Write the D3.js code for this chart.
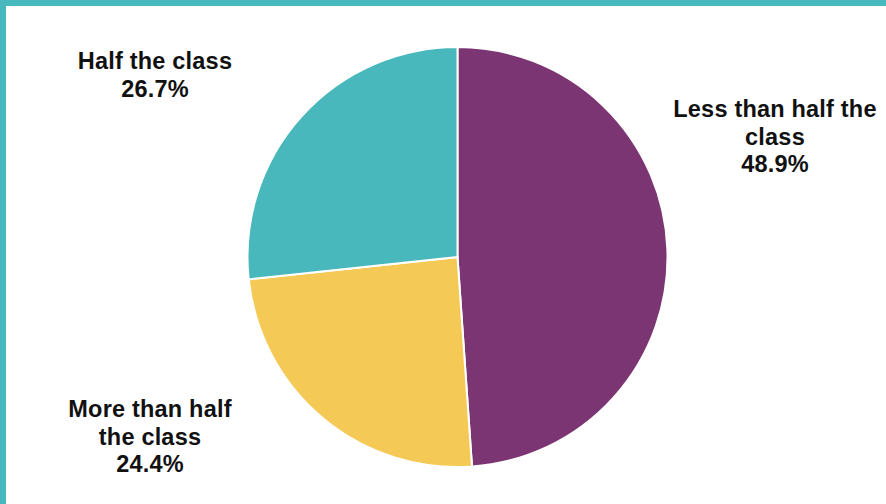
<!DOCTYPE html>
<html lang="en">
<head>
  <meta charset="UTF-8">
  <title>Share of the class</title>
  <script src="https://d3js.org/d3.v7.min.js"></script>
  <style>
    body, html {
      margin: 0;
      padding: 0;
      overflow: hidden;
      background: #fff;
    }
    svg {
      display: block;
    }
    .label {
      font-family: "Liberation Sans", Arial, sans-serif;
      font-weight: bold;
      font-size: 23.5px;
      letter-spacing: 0.2px;
      fill: #111;
    }
  </style>
</head>
<body>
  <svg width="886" height="504"></svg>
  <script>
    // Slices in drawing order, clockwise from 12 o'clock
    const categories = ['Less than half the class', 'More than half the class', 'Half the class'];
    const shares = [48.9, 24.4, 26.7];
    const colors = ['#7b3572', '#f5c956', '#48b8bc'];
    // Label lines for each slice, as wrapped in the picture
    const labelLines = [
      ['Less than half the', 'class', '48.9%'],
      ['More than half', 'the class', '24.4%'],
      ['Half the class', '26.7%']
    ];
    const labelAnchors = [[775, 117], [150, 417], [155, 69]];

    const width = 886;
    const height = 504;
    const svg = d3.select('svg');

    // Teal frame along the top and left edges
    svg.append('rect').attr('x', 0).attr('y', 0).attr('width', width).attr('height', 6).attr('fill', '#47b9bd');
    svg.append('rect').attr('x', 0).attr('y', 0).attr('width', 6).attr('height', height).attr('fill', '#47b9bd');

    const cx = 457.5, cy = 257, radius = 210;

    const data = categories.map((c, i) => ({ name: c, value: shares[i], color: colors[i] }));

    const pie = d3.pie().sort(null).value((d) => d.value);
    const arc = d3.arc().innerRadius(0).outerRadius(radius);

    const g = svg.append('g').attr('transform', `translate(${cx},${cy})`);

    g.selectAll('path')
      .data(pie(data))
      .join('path')
      .attr('d', arc)
      .attr('fill', (d) => d.data.color)
      .attr('stroke', '#fff')
      .attr('stroke-width', 2);

    // Labels outside the pie
    labelLines.forEach((lines, i) => {
      const t = svg.append('text')
        .attr('class', 'label')
        .attr('text-anchor', 'middle')
        .attr('x', labelAnchors[i][0])
        .attr('y', labelAnchors[i][1]);
      lines.forEach((line, j) => {
        t.append('tspan')
          .attr('x', labelAnchors[i][0])
          .attr('dy', j === 0 ? 0 : 27.7)
          .text(line);
      });
    });
  </script>
</body>
</html>
